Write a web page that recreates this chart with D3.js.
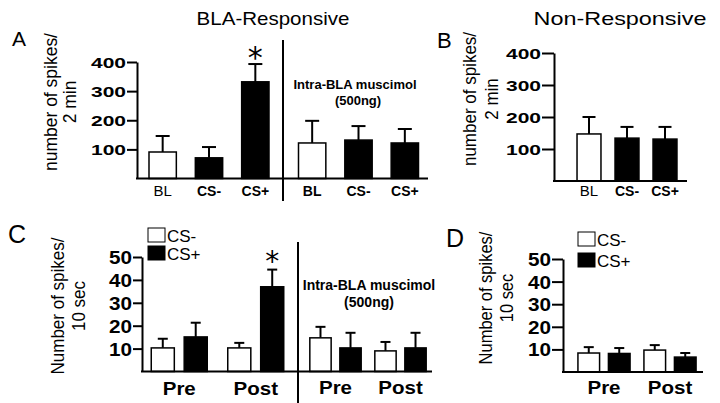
<!DOCTYPE html>
<html><head><meta charset="utf-8">
<script src="https://cdn.jsdelivr.net/npm/d3@7"></script>
<style>
body{margin:0;background:#fff}
svg{display:block}
text{font-family:"Liberation Sans",Arial,sans-serif;fill:#000}
</style>
</head><body>
<svg id="chart" width="720" height="403"></svg>
<script>
// ---------------- DATA ----------------
const cuesAB = ["BL", "CS-", "CS+"];
const aControlMean = [91, 71, 332];
const aControlSem  = [55, 37, 61];
const aMuscMean    = [122, 132, 122];
const aMuscSem     = [76, 48, 48];
const bMean        = [147, 134, 131];
const bSem         = [53, 35, 38];
const ticksAB      = [100, 200, 300, 400];

const phases = ["Pre", "Post"];
const cues   = ["CS-", "CS+"];
const cControlCSminusMean = [10.3, 10.3];
const cControlCSminusSem  = [4.0, 2.2];
const cControlCSplusMean  = [15.1, 37.0];
const cControlCSplusSem   = [6.2, 7.5];
const cMuscCSminusMean    = [14.7, 9.0];
const cMuscCSminusSem     = [4.8, 3.9];
const cMuscCSplusMean     = [10.3, 10.3];
const cMuscCSplusSem      = [6.6, 6.6];
const dCSminusMean        = [8.4, 9.7];
const dCSminusSem         = [2.6, 2.2];
const dCSplusMean         = [8.2, 6.6];
const dCSplusSem          = [2.4, 1.8];
const ticksCD             = [10, 20, 30, 40, 50];

const cueFill = {"BL": "#fff", "CS-": "#000", "CS+": "#000"};
const legendFill = {"CS-": "#fff", "CS+": "#000"};

// ---------------- HELPERS ----------------
const svg = d3.select("#chart");

function stretchText(g, x, y, str, opts) {
  return g.append("text")
    .attr("transform", `translate(${x},${y}) scale(${opts.sx || 1},1)`)
    .attr("text-anchor", opts.anchor || "start")
    .style("font-size", opts.size + "px")
    .style("font-weight", opts.weight || "normal")
    .text(str);
}

function rotText(g, x, y, str, size, sy) {
  return g.append("text")
    .attr("transform", `translate(${x},${y}) rotate(-90) scale(1,${sy || 1})`)
    .attr("text-anchor", "middle")
    .style("font-size", size + "px")
    .text(str);
}

function yAxis(g, y, x0, ticks, tickLen, fontSize, sx) {
  const ax = g.append("g").attr("transform", `translate(${x0},0)`)
    .call(d3.axisLeft(y).tickValues(ticks).tickSize(tickLen).tickSizeOuter(0).tickPadding(1));
  ax.select(".domain").attr("stroke", "#000").attr("stroke-width", 2);
  ax.selectAll(".tick line").attr("stroke", "#000").attr("stroke-width", 2);
  ax.selectAll(".tick text")
    .attr("fill", "#000")
    .style("font-family", '"Liberation Sans",Arial,sans-serif')
    .style("font-size", fontSize + "px")
    .style("font-weight", "bold")
    .attr("x", null)
    .attr("dy", "0.36em")
    .attr("transform", `translate(${-(tickLen + 1)},0) scale(${sx},1)`);
  return ax;
}

function baseLine(g, y, x0, x1) {
  g.append("line").attr("x1", x0).attr("x2", x1)
    .attr("y1", y(0)).attr("y2", y(0))
    .attr("stroke", "#000").attr("stroke-width", 2);
}

function drawBar(g, x, w, y, mean, sem, fill, capW) {
  const cx = x + w / 2;
  g.append("line").attr("x1", cx).attr("x2", cx)
    .attr("y1", y(mean)).attr("y2", y(mean + sem))
    .attr("stroke", "#000").attr("stroke-width", 2);
  g.append("line").attr("x1", cx - capW / 2).attr("x2", cx + capW / 2)
    .attr("y1", y(mean + sem)).attr("y2", y(mean + sem))
    .attr("stroke", "#000").attr("stroke-width", 2);
  g.append("rect").attr("x", x).attr("y", y(mean))
    .attr("width", w).attr("height", y(0) - y(mean))
    .attr("fill", fill).attr("stroke", "#000").attr("stroke-width", 1.5);
}

// ---------------- TITLES ----------------
stretchText(svg, 273, 25, "BLA-Responsive", {size: 18, sx: 1.14, anchor: "middle"});
stretchText(svg, 620, 25, "Non-Responsive", {size: 18, sx: 1.3, anchor: "middle"});
stretchText(svg, 12, 46, "A", {size: 21});
stretchText(svg, 437, 48, "B", {size: 22});
stretchText(svg, 8, 243, "C", {size: 25});
stretchText(svg, 446, 247, "D", {size: 25});

// ---------------- PANEL A ----------------
{
  const g = svg.append("g");
  const y = d3.scaleLinear().domain([0, 400]).range([178.5, 62]);
  const x1 = d3.scaleBand().domain(cuesAB).range([139.5, 278.5]).paddingInner(0.41).paddingOuter(0.205);
  const x2 = d3.scaleBand().domain(cuesAB).range([289, 428]).paddingInner(0.41).paddingOuter(0.205);
  cuesAB.forEach((c, i) => {
    drawBar(g, x1(c), x1.bandwidth(), y, aControlMean[i], aControlSem[i], cueFill[c], 14);
    drawBar(g, x2(c), x2.bandwidth(), y, aMuscMean[i], aMuscSem[i], cueFill[c], 14);
    stretchText(g, x1(c) + x1.bandwidth() / 2, 196, c, {size: c === "BL" ? 15 : 14, weight: c === "BL" ? "normal" : "bold", anchor: "middle"});
    stretchText(g, x2(c) + x2.bandwidth() / 2, 196, c, {size: 14, weight: "bold", anchor: "middle"});
  });
  yAxis(g, y, 137, ticksAB, 10, 14, 1.5);
  baseLine(g, y, 136, 428);
  g.append("line").attr("x1", 283).attr("x2", 283).attr("y1", 40).attr("y2", 201)
    .attr("stroke", "#000").attr("stroke-width", 2);
  g.append("text").attr("x", x1("CS+") + x1.bandwidth() / 2).attr("y", y(aControlMean[2] + aControlSem[2]) + 4)
    .attr("text-anchor", "middle").style("font-family", "DejaVu Sans").style("font-size", "30px").text("*");
  stretchText(g, 355, 89, "Intra-BLA muscimol", {size: 13, weight: "bold", anchor: "middle"});
  stretchText(g, 358, 105, "(500ng)", {size: 13, weight: "bold", anchor: "middle"});
  rotText(g, 57, 102, "number of spikes/", 17.5, 1.1);
  rotText(g, 76, 102, "2 min", 17.5, 1.1);
}

// ---------------- PANEL B ----------------
{
  const g = svg.append("g");
  const y = d3.scaleLinear().domain([0, 400]).range([181, 53]);
  const x = d3.scaleBand().domain(cuesAB).range([570, 684]).paddingInner(0.37).paddingOuter(0.185);
  cuesAB.forEach((c, i) => {
    drawBar(g, x(c), x.bandwidth(), y, bMean[i], bSem[i], cueFill[c], 13);
    stretchText(g, x(c) + x.bandwidth() / 2, 196, c, {size: c === "BL" ? 15 : 14, weight: c === "BL" ? "normal" : "bold", anchor: "middle"});
  });
  yAxis(g, y, 554, ticksAB, 12, 14, 1.5);
  baseLine(g, y, 553, 687);
  rotText(g, 476, 99, "number of spikes/", 17, 1.1);
  rotText(g, 498, 99, "2 min", 17, 1.1);
}

// ---------------- PANELS C & D ----------------
function pairedGroup(g, range, padIn, padOut, innerPad, y, csMinusMean, csMinusSem, csPlusMean, csPlusSem, capW, labelY) {
  const xo = d3.scaleBand().domain(phases).range(range).paddingInner(padIn).paddingOuter(padOut);
  const xi = d3.scaleBand().domain(cues).range([0, xo.bandwidth()]).paddingInner(innerPad);
  phases.forEach((p, i) => {
    drawBar(g, xo(p) + xi("CS-"), xi.bandwidth(), y, csMinusMean[i], csMinusSem[i], legendFill["CS-"], capW);
    drawBar(g, xo(p) + xi("CS+"), xi.bandwidth(), y, csPlusMean[i], csPlusSem[i], legendFill["CS+"], capW);
    stretchText(g, xo(p) + xo.bandwidth() / 2, labelY, p, {size: 19, weight: "bold", anchor: "middle", sx: 1.08});
  });
  return {xo, xi};
}

function legend(g, x, y0, step) {
  cues.forEach((c, i) => {
    g.append("rect").attr("x", x).attr("y", y0 + i * step).attr("width", 17).attr("height", 14)
      .attr("fill", legendFill[c]).attr("stroke", "#000").attr("stroke-width", 1);
    stretchText(g, x + 19, y0 + i * step + 14, c, {size: 17});
  });
}

{
  const g = svg.append("g");
  const y = d3.scaleLinear().domain([0, 50]).range([371.5, 257]);
  const a = pairedGroup(g, [141, 294], 0.268, 0.134, 0.3, y,
    cControlCSminusMean, cControlCSminusSem, cControlCSplusMean, cControlCSplusSem, 10, 395);
  pairedGroup(g, [303, 433], 0.21, 0.105, 0.29, y,
    cMuscCSminusMean, cMuscCSminusSem, cMuscCSplusMean, cMuscCSplusSem, 10, 394);
  yAxis(g, y, 142, ticksCD, 9, 18, 1.15);
  baseLine(g, y, 141, 432);
  g.append("line").attr("x1", 298).attr("x2", 298).attr("y1", 242).attr("y2", 403)
    .attr("stroke", "#000").attr("stroke-width", 2);
  const sx = a.xo("Post") + a.xi("CS+") + a.xi.bandwidth() / 2;
  g.append("text").attr("x", sx).attr("y", y(cControlCSplusMean[1] + cControlCSplusSem[1]) + 1)
    .attr("text-anchor", "middle").style("font-family", "DejaVu Sans").style("font-size", "28px").text("*");
  stretchText(g, 369, 290, "Intra-BLA muscimol", {size: 14, weight: "bold", anchor: "middle"});
  stretchText(g, 369, 307, "(500ng)", {size: 14, weight: "bold", anchor: "middle"});
  legend(g, 148, 228, 18);
  rotText(g, 64, 306, "Number of spikes/", 17, 1.1);
  rotText(g, 85, 306, "10 sec", 17, 1.1);
}

{
  const g = svg.append("g");
  const y = d3.scaleLinear().domain([0, 50]).range([372, 259]);
  pairedGroup(g, [571, 703], 0.21, 0.105, 0.29, y,
    dCSminusMean, dCSminusSem, dCSplusMean, dCSplusSem, 10, 394);
  yAxis(g, y, 563, ticksCD, 11, 18, 1.15);
  baseLine(g, y, 562, 703);
  legend(g, 578, 232, 21);
  rotText(g, 492, 298, "Number of spikes/", 16.5, 1.1);
  rotText(g, 513, 298, "10 sec", 16.5, 1.1);
}
</script>
</body></html>
